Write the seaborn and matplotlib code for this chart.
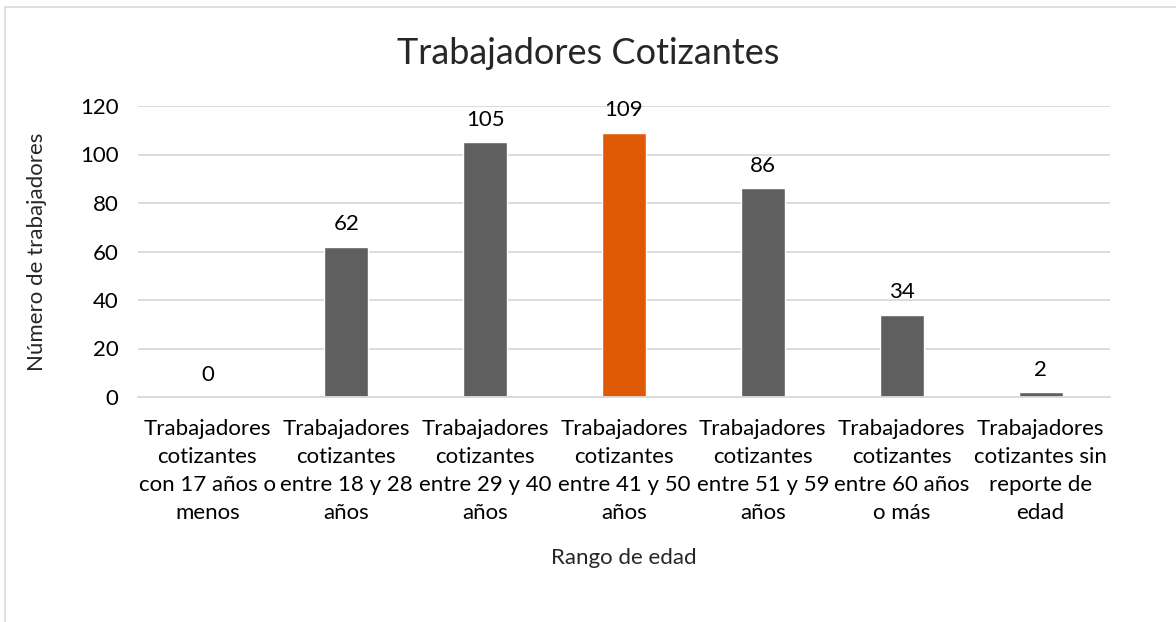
import matplotlib
matplotlib.use("Agg")
import matplotlib.pyplot as plt
import seaborn as sns
import pandas as pd
from matplotlib.patches import Rectangle

categories = [
    "Trabajadores\ncotizantes\ncon 17 años o\nmenos",
    "Trabajadores\ncotizantes\nentre 18 y 28\naños",
    "Trabajadores\ncotizantes\nentre 29 y 40\naños",
    "Trabajadores\ncotizantes\nentre 41 y 50\naños",
    "Trabajadores\ncotizantes\nentre 51 y 59\naños",
    "Trabajadores\ncotizantes\nentre 60 años\no más",
    "Trabajadores\ncotizantes sin\nreporte de\nedad",
]
values = [0, 62, 105, 109, 86, 34, 2]
highlight = [False, False, False, True, False, False, False]
yticks = [0, 20, 40, 60, 80, 100, 120]

sns.set_theme(style="white")
plt.rcParams['font.family'] = ['Lato', 'DejaVu Sans']

df = pd.DataFrame({"cat": categories, "val": values,
                   "grp": ["hi" if h else "lo" for h in highlight]})

fig = plt.figure(figsize=(11.76, 6.22), dpi=100)
ax = fig.add_axes([138/1176, 1-397/622, (1110-138)/1176, (397-106)/622])

sns.barplot(data=df, x="cat", y="val", hue="grp",
            palette={"hi": "#E05A06", "lo": "#5F5F5F"},
            dodge=False, width=0.317, ax=ax, legend=False, saturation=1)

FS = 16
ax.set_ylim(0, 120)
ax.set_yticks(yticks)
ax.yaxis.grid(True, color="#D9D9D9", linewidth=1.3)
ax.set_axisbelow(True)
for s in ["top", "right", "left"]:
    ax.spines[s].set_visible(False)
ax.spines["bottom"].set_color("#D9D9D9")
ax.spines["bottom"].set_linewidth(1.3)
ax.tick_params(axis="both", length=0, labelsize=FS, colors="#000000")
ax.tick_params(axis="y", pad=14)
ax.tick_params(axis="x", pad=15.5)
ax.set_xticks(range(len(categories)))
ax.set_xticklabels(categories, linespacing=1.5, multialignment="center", fontsize=FS)

for i, v in enumerate(values):
    ax.annotate(str(v), (i, v), xytext=(0, 16), textcoords="offset points",
                ha="center", va="center", fontsize=FS, color="#000000")

ax.set_xlabel("Rango de edad", fontsize=FS, labelpad=18)
ax.set_ylabel("Número de trabajadores", fontsize=FS, labelpad=24)
fig.text(0.5, 1-53/622, "Trabajadores Cotizantes", ha="center", va="center", fontsize=26)

fig.patches.append(Rectangle((5/1176, -0.1), 1.2, 1.1 - 7/622, transform=fig.transFigure,
                             fill=False, edgecolor="#D9D9D9", linewidth=1.2))

fig.savefig("out.png", dpi=100)
